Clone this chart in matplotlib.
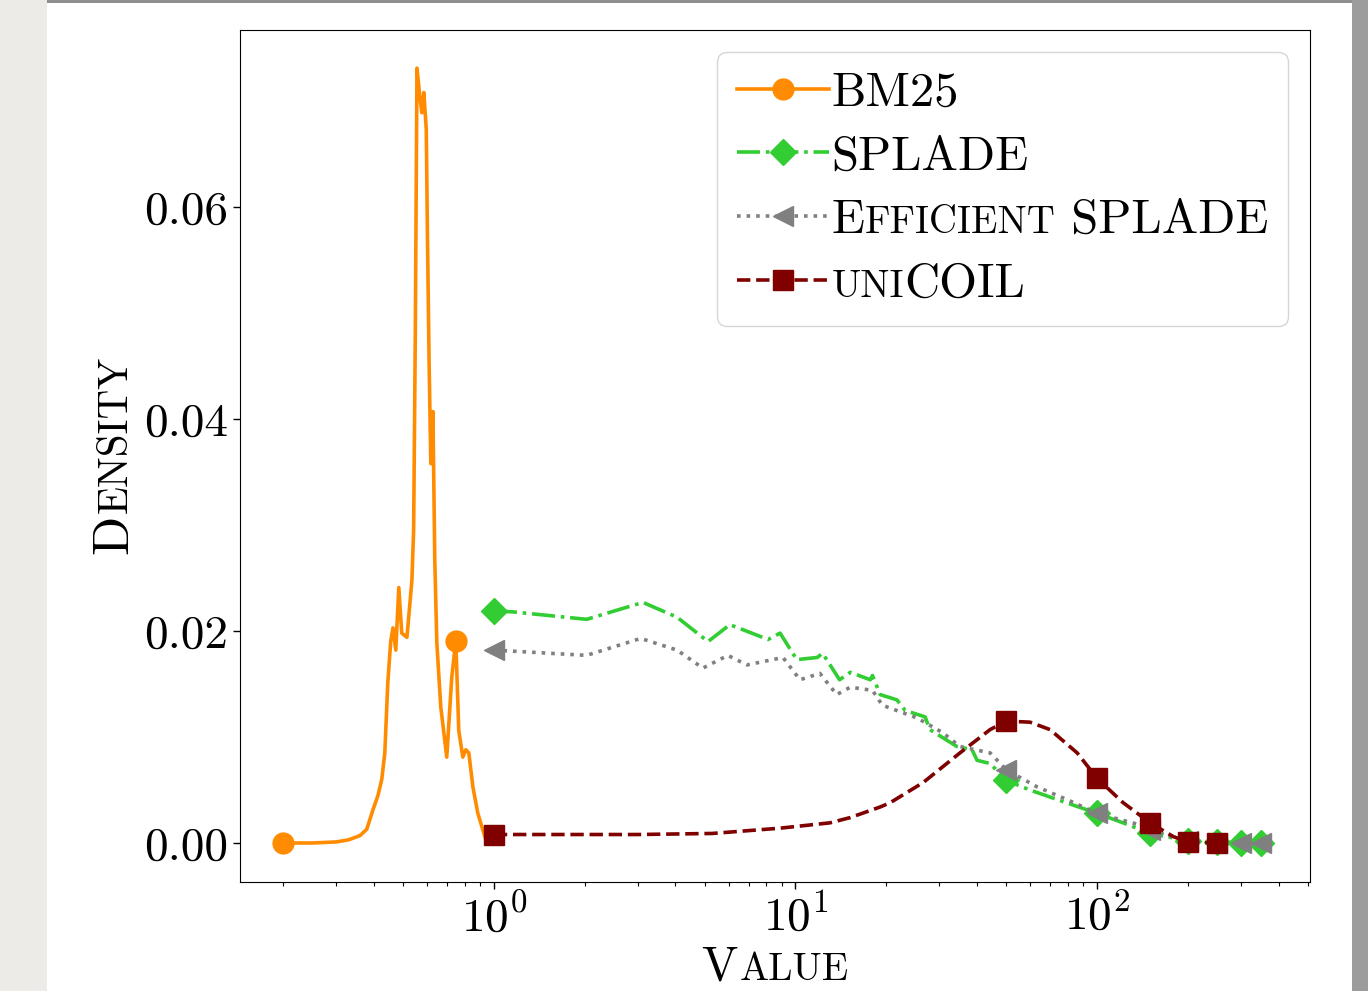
import matplotlib
matplotlib.use('Agg')
import matplotlib.pyplot as plt
from matplotlib.patches import Rectangle
from matplotlib.font_manager import FontProperties
from matplotlib.offsetbox import TextArea, HPacker
from matplotlib.transforms import IdentityTransform

plt.rcParams['font.family'] = 'serif'
plt.rcParams['font.serif'] = ['cmr10']
plt.rcParams['mathtext.fontset'] = 'cm'
plt.rcParams['axes.formatter.use_mathtext'] = True

# ---- data ----
bm25_x = [0.2, 0.25, 0.30, 0.33, 0.36, 0.379, 0.397, 0.413, 0.425, 0.435, 0.445,
          0.455, 0.463, 0.473, 0.484, 0.495, 0.515, 0.535, 0.542, 0.549, 0.556,
          0.568, 0.577, 0.586, 0.597, 0.602, 0.610, 0.618, 0.623, 0.628, 0.637,
          0.647, 0.667, 0.698, 0.725, 0.748, 0.765, 0.789, 0.807, 0.826, 0.852,
          0.885, 0.92, 0.948]
bm25_y = [0.0, 0.0, 0.0001, 0.0003, 0.0007, 0.0013, 0.0031, 0.0045, 0.0060, 0.0085, 0.0151,
          0.0190, 0.0203, 0.0182, 0.0241, 0.0198, 0.0194, 0.0248, 0.0295, 0.0480, 0.0731,
          0.0705, 0.0689, 0.0708, 0.0673, 0.0578, 0.0453, 0.0358, 0.0358, 0.0407, 0.0267,
          0.0189, 0.0128, 0.0081, 0.0156, 0.0191, 0.0106, 0.0081, 0.0088, 0.0085, 0.0053,
          0.0028, 0.0012, 0.0]
bm25_marks = [0.2, 0.748]

splade_x = [1, 1.16, 2.03, 3.12, 4.05, 5.13, 6.06, 8.11, 8.89, 10.1, 11.8, 12.3, 14.0,
            15.2, 17.7, 18.0, 19.1, 21.7, 23.1, 26.9, 27.9, 34.3, 38.5, 40.0, 44.2, 50,
            59.9, 73.7, 100, 122, 150, 200, 250, 300, 350]
splade_y = [0.0219, 0.0218, 0.0211, 0.0227, 0.0213, 0.0190, 0.0206, 0.0192, 0.0198,
            0.0173, 0.0175, 0.0179, 0.0154, 0.0161, 0.0154, 0.0158, 0.0140, 0.0135,
            0.0125, 0.0119, 0.0107, 0.0091, 0.0088, 0.0078, 0.0075, 0.0059, 0.0050,
            0.0041, 0.0028, 0.0019, 0.0009, 0.0002, 0.0001, 0.0, 0.0]

eff_x = [1, 2.03, 3.07, 4.05, 4.93, 5.97, 6.9, 9.09, 10.35, 12.05, 13.7, 15.2, 18.0,
         19.4, 25.3, 30.8, 35.1, 44.2, 50, 63.2, 79.4, 100, 139, 150, 193, 200, 250,
         300, 350]
eff_y = [0.0182, 0.0177, 0.0193, 0.0182, 0.0165, 0.0177, 0.0168, 0.0175, 0.0154,
         0.0160, 0.0140, 0.0147, 0.0144, 0.0130, 0.0118, 0.0104, 0.0091, 0.0085,
         0.0069, 0.0053, 0.0041, 0.0028, 0.0017, 0.0012, 0.0003, 0.0002, 0.0, 0.0, 0.0]

unicoil_x = [1, 2, 3, 5.3, 8.9, 13.0, 15.2, 19.1, 20.6, 26.5, 35.1, 44.2, 50, 59.9,
             69.8, 85.9, 100, 122, 150, 179, 200, 250]
unicoil_y = [0.0008, 0.0008, 0.0008, 0.0009, 0.0014, 0.0019, 0.0024, 0.0034, 0.0038,
             0.0057, 0.0085, 0.0107, 0.0115, 0.0114, 0.0107, 0.0085, 0.0061, 0.0038,
             0.0019, 0.0006, 0.0001, 0.0]

marks = [1, 50, 100, 150, 200, 250, 300, 350]

FS_TICK = 34
FS_LEG = 35
FS_LAB = 35
SC = 0.8

fig = plt.figure(figsize=(13.68, 9.91), dpi=100, facecolor='#ecebe8')
# white page with grey borders like the screenshot
fig.patches.append(Rectangle((47 / 1368, 0), (1352 - 47) / 1368, 988 / 991,
                             transform=fig.transFigure, facecolor='white',
                             edgecolor='none', zorder=-10))
fig.patches.append(Rectangle((1352 / 1368, 0), 16 / 1368, 1,
                             transform=fig.transFigure, facecolor='#9c9c9c',
                             edgecolor='none', zorder=-10))
fig.patches.append(Rectangle((47 / 1368, 988 / 991), (1352 - 47) / 1368, 3 / 991,
                             transform=fig.transFigure, facecolor='#8e8e8e',
                             edgecolor='none', zorder=-10))

ax = fig.add_axes([240 / 1368, 1 - 882 / 991, 1070 / 1368, 852 / 991])


def idx(xs, vals):
    return [xs.index(v) for v in vals if v in xs]


ax.plot(bm25_x, bm25_y, '-', color='darkorange', lw=2.6, marker='o', ms=15,
        markevery=idx(bm25_x, bm25_marks), label='BM25')
ax.plot(splade_x, splade_y, '-.', color='limegreen', lw=2.6, marker='D', ms=13.5,
        markevery=idx(splade_x, marks), label='SPLADE')
ax.plot(eff_x, eff_y, ':', color='gray', lw=2.6, marker='<', ms=15,
        markevery=idx(eff_x, marks), label='Efficient SPLADE')
ax.plot(unicoil_x, unicoil_y, '--', color='maroon', lw=2.6, marker='s', ms=14.5,
        markevery=idx(unicoil_x, marks), label='uniCOIL')

ax.set_xscale('log')
ax.set_xlim(0.144, 508)
ax.set_ylim(-0.00368, 0.0767)
ax.set_yticks([0.0, 0.02, 0.04, 0.06])
ax.set_yticklabels(['0.00', '0.02', '0.04', '0.06'])
ax.tick_params(axis='both', which='major', labelsize=FS_TICK, length=5, width=1)
ax.tick_params(axis='both', which='minor', length=3, width=0.8)

leg = ax.legend(loc='upper right', fontsize=FS_LEG, handlelength=1.9,
                handletextpad=0.05, borderaxespad=0.45, labelspacing=0.4,
                borderpad=0.4)


def sc_box(parts, size):
    kids = []
    for s, small in parts:
        fp = FontProperties(family='serif', size=size * (SC if small else 1))
        kids.append(TextArea(s, textprops=dict(fontproperties=fp, va='baseline', ha='left')))
    return HPacker(children=kids, align='baseline', pad=0, sep=0)


# swap the plain labels for small-caps versions
items = leg._legend_handle_box.get_children()[0].get_children()
for i, parts in [(2, [('E', False), ('FFICIENT', True), (' SPLADE', False)]),
                 (3, [('UNI', True), ('COIL', False)])]:
    box = sc_box(parts, FS_LEG)
    box.set_figure(fig)
    items[i].get_children()[1] = box

# small-caps axis labels
fig.canvas.draw()
rend = fig.canvas.get_renderer()


def sc_label(cx, cy, parts, size, rot):
    fps, ws = [], []
    for s, small in parts:
        fp = FontProperties(family='serif', size=size * (SC if small else 1))
        w, h, d = rend.get_text_width_height_descent(s, fp, ismath=False)
        fps.append(fp)
        ws.append(w)
    gap = 0.03 * size * 100 / 72
    pos = -(sum(ws) + gap * (len(ws) - 1)) / 2
    for (s, small), fp, w in zip(parts, fps, ws):
        if rot:
            fig.text(cx, cy + pos, s, fontproperties=fp, rotation=90,
                     rotation_mode='anchor', ha='left', va='baseline',
                     transform=IdentityTransform())
        else:
            fig.text(cx + pos, cy, s, fontproperties=fp, ha='left', va='baseline',
                     transform=IdentityTransform())
        pos += w + gap


sc_label(775, 991 - 980, [('V', False), ('ALUE', True)], FS_LAB, False)
sc_label(127, 991 - 455, [('D', False), ('ENSITY', True)], FS_LAB + 2, True)

fig.savefig('out.png', dpi=100, facecolor=fig.get_facecolor())
